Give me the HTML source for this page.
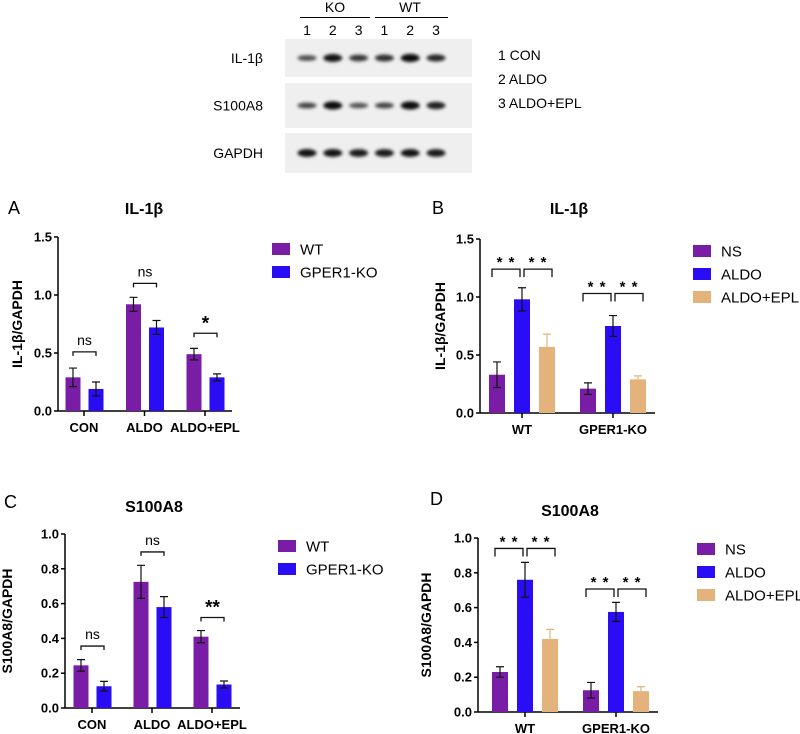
<!DOCTYPE html>
<html><head><meta charset="utf-8"><style>
html,body{margin:0;padding:0;background:#fff;}
svg{display:block;font-family:"Liberation Sans",Arial,sans-serif;}
</style></head><body>
<svg id="fig" width="800" height="734" viewBox="0 0 800 734">
<defs><filter id="blur" x="-50%" y="-100%" width="200%" height="300%"><feGaussianBlur stdDeviation="1.6"/></filter></defs>
<g id="blot"></g>
<g id="pA"></g>
<g id="pB"></g>
<g id="pC"></g>
<g id="pD"></g>
</svg>
<script>
// ---- data ----
const blotLanes = ["1","2","3","1","2","3"];
const il1bBands = [0.55,0.95,0.7,0.75,1.0,0.8];
const s100Bands = [0.6,1.0,0.5,0.6,1.0,0.85];
const gapdhBands = [0.95,0.95,0.9,0.9,0.95,0.9];

const aCats = ["CON","ALDO","ALDO+EPL"];
const aWT = [0.29,0.92,0.49];
const aWTerr = [0.08,0.06,0.05];
const aKO = [0.19,0.72,0.29];
const aKOerr = [0.06,0.06,0.03];
const aTicks = [0,0.5,1.0,1.5];
const aTickLabels = ["0.0","0.5","1.0","1.5"];
const aSig = ["ns","ns","*"];
const aSigY = [0.51,1.10,0.67];

const bCats = ["WT","GPER1-KO"];
const bNS = [0.33,0.21];
const bNSerr = [0.11,0.05];
const bALDO = [0.98,0.75];
const bALDOerr = [0.10,0.09];
const bEPL = [0.57,0.29];
const bEPLerr = [0.11,0.03];
const bSigY = [1.24,1.03];

const cCats = ["CON","ALDO","ALDO+EPL"];
const cWT = [0.245,0.725,0.41];
const cWTerr = [0.033,0.095,0.035];
const cKO = [0.125,0.58,0.135];
const cKOerr = [0.028,0.06,0.02];
const cTicks = [0,0.2,0.4,0.6,0.8,1.0];
const cTickLabels = ["0.0","0.2","0.4","0.6","0.8","1.0"];
const cSig = ["ns","ns","**"];
const cSigY = [0.356,0.897,0.52];

const dCats = ["WT","GPER1-KO"];
const dNS = [0.23,0.125];
const dNSerr = [0.03,0.045];
const dALDO = [0.76,0.575];
const dALDOerr = [0.10,0.055];
const dEPL = [0.42,0.12];
const dEPLerr = [0.055,0.025];
const dSigY = [0.94,0.707];

const PURPLE="#7a1da6", BLUE="#2a0cf5", TAN="#e4b37c";
const NS="http://www.w3.org/2000/svg";
function mk(parent,tag,attrs,text){const e=document.createElementNS(NS,tag);for(const k in attrs)e.setAttribute(k,attrs[k]);if(text!==undefined)e.textContent=text;parent.appendChild(e);return e;}

// ---- blot ----
(function(){
  const g=document.getElementById('blot');
  const laneX=i=>307+i*25.8;
  const hdr=[["KO",335,300,370],["WT",410,375,448]];
  hdr.forEach(h=>{
    const t=mk(g,'text',{x:h[1],y:12,'font-size':14,'text-anchor':'middle'},h[0]);
    
    
    const l=mk(g,'line',{x1:h[2],x2:h[3],y1:17.5,y2:17.5,stroke:'#000','stroke-width':1});
    
    
  });
  blotLanes.forEach((n,i)=>{
    const t=mk(g,'text',{x:laneX(i),y:35,'font-size':14,'text-anchor':'middle'},n);
    
    
  });
  const rows=[["IL-1β",39,77,il1bBands],["S100A8",83,128,s100Bands],["GAPDH",133,173,gapdhBands]];
  rows.forEach(r=>{
    const lab=mk(g,'text',{x:263,y:(r[1]+r[2])/2+5,'font-size':14,'text-anchor':'end'},r[0]);
    
    
    const rc=mk(g,'rect',{x:285,y:r[1],width:187,height:r[2]-r[1],fill:'#efefef'});
    
    
    r[3].forEach((v,i)=>{
      const b=mk(g,'ellipse',{cx:laneX(i),cy:(r[1]+r[2])/2,rx:9.5,ry:1.5+v*2.6,fill:'#000','fill-opacity':0.35+v*0.6,filter:'url(#blur)'});
      
      
    });
  });
  ["1 CON","2 ALDO","3 ALDO+EPL"].forEach((s,i)=>{
    const t=mk(g,'text',{x:498,y:60+i*24,'font-size':14},s);
    
    
  });
})();

// ---- chart helper ----
function chart(gid,o){
  const g=document.getElementById(gid);
  const ys=v=>o.y0-(v/o.max)*(o.y0-o.yTop);
  const cx=i=>o.x0+o.first+i*o.step;
  let t=mk(g,'text',{x:o.letterX,y:o.letterY,'font-size':18},o.letter);
  
  t=mk(g,'text',{x:o.titleX,y:o.titleY,'font-size':16,'font-weight':'bold','text-anchor':'middle'},o.title);
  
  t=mk(g,'text',{x:0,y:0,'font-size':14,'font-weight':'bold','text-anchor':'middle',transform:`translate(${o.ylabX},${(o.y0+o.yTop)/2}) rotate(-90)`},o.ylab);
  
  let l=mk(g,'line',{x1:o.x0,x2:o.x0,y1:o.yTop,y2:o.y0,stroke:'#000','stroke-width':1.5});
  
  l=mk(g,'line',{x1:o.x0,x2:o.xEnd,y1:o.y0,y2:o.y0,stroke:'#000','stroke-width':1.5});
  
  o.ticks.forEach((v,i)=>{
    const tk=mk(g,'line',{x1:o.x0-4,x2:o.x0,y1:ys(v),y2:ys(v),stroke:'#000','stroke-width':1.5});
    
    const tl=mk(g,'text',{x:o.x0-6,y:ys(v)+4.5,'font-size':13,'font-weight':'bold','text-anchor':'end'},o.tickLabels[i]);
    
  });
  o.cats.forEach((c,i)=>{
    const tk=mk(g,'line',{x1:cx(i),x2:cx(i),y1:o.y0,y2:o.y0+5,stroke:'#000','stroke-width':1.5});
    
    const tl=mk(g,'text',{x:cx(i),y:o.y0+21,'font-size':13,'font-weight':'bold','text-anchor':'middle'},c);
    
  });
  o.series.forEach((s,si)=>{
    s.vals.forEach((v,i)=>{
      const x=cx(i)+o.offsets[si];
      const r=mk(g,'rect',{x:x-o.bw/2,y:ys(v),width:o.bw,height:o.y0-ys(v),fill:s.color});
      
      
      const ec=s.upOnly?s.color:'#111';
      const top=ys(v+s.err[i]), bot=s.upOnly?ys(v):ys(v-s.err[i]);
      const e=mk(g,'path',{d:`M${x},${top}V${bot}M${x-4},${top}H${x+4}`+(s.upOnly?'':`M${x-4},${bot}H${x+4}`),stroke:ec,'stroke-width':1.2,fill:'none'});
      
    });
  });
  o.sig.forEach(sg=>{
    const y=ys(sg.v);
    const x1=cx(sg.i)+o.offsets[sg.a]+sg.pa, x2=cx(sg.i)+o.offsets[sg.b]+sg.pb;
    const p=mk(g,'path',{d:`M${x1},${y+sg.leg}V${y}H${x2}V${y+sg.leg}`,stroke:'#111','stroke-width':1.3,fill:'none'});
    
    const st=mk(g,'text',{x:(x1+x2)/2,y:y-(sg.label==='ns'?7:(sg.label.indexOf(' ')>=0?2:4)),'font-size':sg.label==='ns'?14:(sg.label.indexOf(' ')>=0?15:19),'font-weight':sg.label==='ns'?'normal':'bold','text-anchor':'middle','letter-spacing':sg.label.indexOf(' ')>=0?'1':'0'},sg.label);
    
  });
  o.series.forEach((s,si)=>{
    const y=o.legY+si*o.legGap;
    const r=mk(g,'rect',{x:o.legX,y:y-6,width:18,height:12,fill:s.color});
    
    const tx=mk(g,'text',{x:o.legX+28,y:y+5.5,'font-size':15},s.name);
    
  });
}

chart('pA',{letter:'A',letterX:8,letterY:214,title:'IL-1β',titleX:144,titleY:214,ylab:'IL-1β/GAPDH',ylabX:22,
  x0:58,xEnd:232,y0:411,yTop:237,max:1.5,ticks:aTicks,tickLabels:aTickLabels,cats:aCats,first:26,step:60.5,
  bw:15,offsets:[-11,12],
  series:[{name:'WT',color:PURPLE,vals:aWT,err:aWTerr},{name:'GPER1-KO',color:BLUE,vals:aKO,err:aKOerr}],
  sig:aSig.map((s,i)=>({i:i,a:0,b:1,pa:0,pb:0,v:aSigY[i],leg:4,label:s})),
  legX:272,legY:249,legGap:23});

chart('pB',{letter:'B',letterX:432,letterY:214,title:'IL-1β',titleX:569,titleY:214,ylab:'IL-1β/GAPDH',ylabX:445,
  x0:480,xEnd:655,y0:413,yTop:239,max:1.5,ticks:aTicks,tickLabels:aTickLabels,cats:bCats,first:42,step:91,
  bw:16,offsets:[-25,0,25],
  series:[{name:'NS',color:PURPLE,vals:bNS,err:bNSerr},{name:'ALDO',color:BLUE,vals:bALDO,err:bALDOerr},{name:'ALDO+EPL',color:TAN,vals:bEPL,err:bEPLerr,upOnly:true}],
  sig:[0,1].flatMap(i=>[{i:i,a:0,b:1,pa:-5,pb:-2,v:bSigY[i],leg:8,label:'* *'},{i:i,a:1,b:2,pa:2,pb:5,v:bSigY[i],leg:8,label:'* *'}]),
  legX:693,legY:251,legGap:23});

chart('pC',{letter:'C',letterX:4,letterY:508,title:'S100A8',titleX:154,titleY:512,ylab:'S100A8/GAPDH',ylabX:12,
  x0:65,xEnd:240,y0:708,yTop:534,max:1.0,ticks:cTicks,tickLabels:cTickLabels,cats:cCats,first:27,step:60,
  bw:15,offsets:[-11,12],
  series:[{name:'WT',color:PURPLE,vals:cWT,err:cWTerr},{name:'GPER1-KO',color:BLUE,vals:cKO,err:cKOerr}],
  sig:cSig.map((s,i)=>({i:i,a:0,b:1,pa:0,pb:0,v:cSigY[i],leg:4,label:s})),
  legX:278,legY:546,legGap:23});

chart('pD',{letter:'D',letterX:430,letterY:505,title:'S100A8',titleX:570,titleY:516,ylab:'S100A8/GAPDH',ylabX:431,
  x0:478,xEnd:658,y0:712,yTop:538,max:1.0,ticks:cTicks,tickLabels:cTickLabels,cats:dCats,first:47,step:91,
  bw:16,offsets:[-25,0,25],
  series:[{name:'NS',color:PURPLE,vals:dNS,err:dNSerr},{name:'ALDO',color:BLUE,vals:dALDO,err:dALDOerr},{name:'ALDO+EPL',color:TAN,vals:dEPL,err:dEPLerr,upOnly:true}],
  sig:[0,1].flatMap(i=>[{i:i,a:0,b:1,pa:-5,pb:-2,v:dSigY[i],leg:8,label:'* *'},{i:i,a:1,b:2,pa:2,pb:5,v:dSigY[i],leg:8,label:'* *'}]),
  legX:697,legY:549,legGap:23});
</script>
</body></html>
